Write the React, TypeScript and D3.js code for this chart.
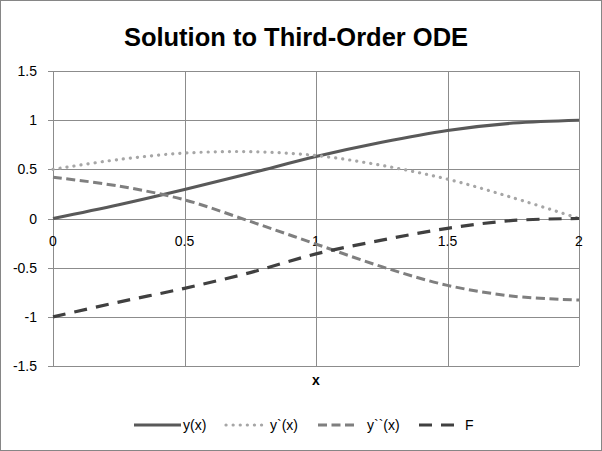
import React, { useEffect, useRef } from "react";
import * as d3 from "d3";

// values
const xValues = [0, 0.25, 0.5, 0.75, 1, 1.25, 1.5, 1.75, 2];
const yValues = [0, 0.14, 0.295, 0.46, 0.63, 0.775, 0.895, 0.97, 1.0];
const yPrimeValues = [0.5, 0.6, 0.665, 0.68, 0.64, 0.54, 0.4, 0.21, 0];
const yDoublePrimeValues = [0.42, 0.33, 0.19, -0.03, -0.26, -0.49, -0.68, -0.79, -0.83];
const fValues = [-1, -0.85, -0.71, -0.55, -0.36, -0.22, -0.1, -0.02, 0];

const seriesNames = ["y(x)", "y`(x)", "y``(x)", "F"];
const xTicks = [0, 0.5, 1, 1.5, 2];
const yTicks = [-1.5, -1, -0.5, 0, 0.5, 1, 1.5];

const width = 602;
const height = 451;
const margin = { top: 71, right: 23, bottom: 85, left: 53 };

export default function App() {
  const ref = useRef<SVGSVGElement>(null);

  useEffect(() => {
    const svg = d3.select(ref.current);
    svg.selectAll("*").remove();

    const x = d3.scaleLinear().domain([0, 2]).range([margin.left, width - margin.right]);
    const y = d3.scaleLinear().domain([-1.5, 1.5]).range([height - margin.bottom, margin.top]);

    const font = "'Liberation Sans', Arial, sans-serif";

    // outer frame
    svg.append("rect")
      .attr("x", 0.5).attr("y", 0.5)
      .attr("width", width - 1).attr("height", height - 1)
      .attr("fill", "#fff").attr("stroke", "#868686");

    svg.append("text")
      .attr("x", 296).attr("y", 46)
      .attr("text-anchor", "middle")
      .attr("font-family", font)
      .attr("font-weight", "bold")
      .attr("font-size", 25.5)
      .text("Solution to Third-Order ODE");

    // grid
    const grid = svg.append("g").attr("stroke", "#8c8c8c").attr("stroke-width", 1);
    yTicks.forEach(t => {
      grid.append("line")
        .attr("x1", margin.left - 5).attr("x2", width - margin.right)
        .attr("y1", Math.round(y(t)) + 0.5).attr("y2", Math.round(y(t)) + 0.5);
    });
    xTicks.forEach(t => {
      grid.append("line")
        .attr("x1", Math.round(x(t)) + 0.5).attr("x2", Math.round(x(t)) + 0.5)
        .attr("y1", margin.top).attr("y2", height - margin.bottom);
    });

    // tick labels
    svg.append("g").selectAll("text")
      .data(yTicks).join("text")
      .attr("x", 37).attr("y", d => y(d) + 5)
      .attr("text-anchor", "end")
      .attr("font-family", font).attr("font-size", 14)
      .text(d => String(d));

    svg.append("g").selectAll("text")
      .data(xTicks).join("text")
      .attr("x", d => x(d)).attr("y", y(0) + 27)
      .attr("text-anchor", "middle")
      .attr("font-family", font).attr("font-size", 14)
      .text(d => String(d));

    svg.append("text")
      .attr("x", x(1)).attr("y", 385)
      .attr("text-anchor", "middle")
      .attr("font-family", font).attr("font-weight", "bold").attr("font-size", 14)
      .text("x");

    const styles = [
      { color: "#595959", dash: null, w: 3, cap: "butt" },
      { color: "#a6a6a6", dash: "0.1,7", w: 3.2, cap: "round" },
      { color: "#7f7f7f", dash: "9,4.5", w: 3, cap: "butt" },
      { color: "#404040", dash: "13,9", w: 3.2, cap: "butt" },
    ];
    const allSeries = [yValues, yPrimeValues, yDoublePrimeValues, fValues];

    const line = d3.line<number>()
      .x((_, i) => x(xValues[i]))
      .y(d => y(d))
      .curve(d3.curveCatmullRom);

    allSeries.forEach((vals, i) => {
      const s = styles[i];
      svg.append("path")
        .datum(vals)
        .attr("d", line)
        .attr("fill", "none")
        .attr("stroke", s.color)
        .attr("stroke-width", s.w)
        .attr("stroke-linecap", s.cap)
        .attr("stroke-dasharray", s.dash);
    });

    // legend
    const legendItems = [
      { x1: 134, x2: 181, tx: 183 },
      { x1: 226, x2: 262, tx: 270 },
      { x1: 318, x2: 358, tx: 367 },
      { x1: 419, x2: 457, tx: 465 },
    ];
    const ly = 425;
    legendItems.forEach((it, i) => {
      const s = styles[i];
      svg.append("line")
        .attr("x1", it.x1).attr("x2", it.x2)
        .attr("y1", ly).attr("y2", ly)
        .attr("stroke", s.color)
        .attr("stroke-width", s.w)
        .attr("stroke-linecap", s.cap)
        .attr("stroke-dasharray", s.dash);
      svg.append("text")
        .attr("x", it.tx).attr("y", ly + 5)
        .attr("font-family", font).attr("font-size", 14)
        .text(seriesNames[i]);
    });
  }, []);

  return (
    <svg ref={ref} width={width} height={height}
      style={{ position: "absolute", left: 0, top: 0 }} />
  );
}
